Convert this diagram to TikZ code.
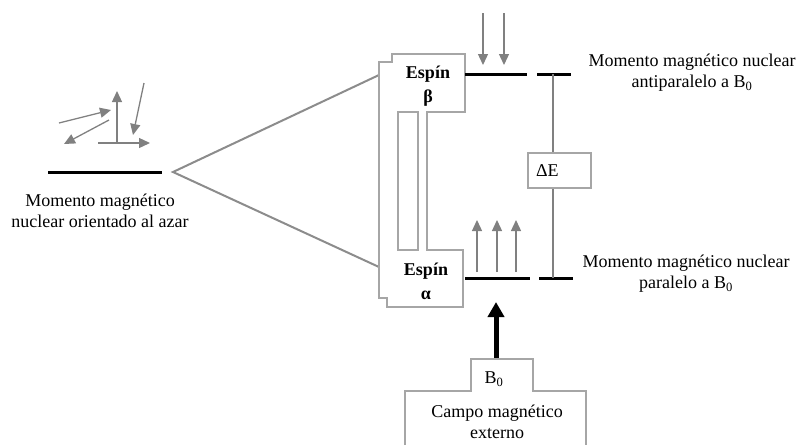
\documentclass[tikz,border=0pt]{standalone}
\usepackage{fontspec}
\setmainfont{Liberation Serif}
\usetikzlibrary{arrows.meta}
\begin{document}
\begin{tikzpicture}[x=1pt, y=-1pt, font=\fontsize{18}{21}\selectfont, line join=miter, line cap=butt,
    >={Triangle[length=11pt,width=10pt]},
    mom/.style={->, black!50, line width=1.3pt},
    level/.style={line width=3pt},
    frame/.style={black!35, line width=1.1pt},
    lab/.style={align=center, inner sep=0pt}]
    \useasboundingbox (0,0) rectangle (799,445);
    % nucleos orientados al azar
    \foreach \xa/\ya/\xb/\yb in {59/123/111/110, 109/120/64/144, 117/143/117/91, 98/143/150/143, 144/83/133/135}
        \draw[mom] (\xa,\ya)--(\xb,\yb);
    \draw[level] (48,172) coordinate (rnd) -- (162,172);
    \node[lab] (rndtxt) at (100,211) {Momento magnético\\nuclear orientado al azar};
    \coordinate (apex) at (173,172);
    \draw[black!45, line width=2pt] (379,75)--(apex)--(379,267);
    % caja de espines
    \draw[frame] (392,54)--(465,54)--(465,112)--(427,112)--(427,250)--(463,250)--(463,307)--(387,307)--(387,298)--(379,298)--(379,62)--(392,62)--cycle;
    \draw[frame] (398,112) rectangle (418,250);
    \node[lab, font=\fontsize{18}{24}\selectfont\bfseries] (beta) at (428,86) {Espín\\β};
    \node[lab, font=\fontsize{18}{24}\selectfont\bfseries] (alpha) at (426,281) {Espín\\α};
    % niveles
    \draw[level] (465,74)--(527,74);
    \draw[level] (537,74)--(571,74);
    \draw[level] (465,278)--(530,278);
    \draw[level] (539,278)--(573,278);
    \coordinate (etop) at (553,74);
    \coordinate (ebot) at (553,278);
    \node[draw=black!35, line width=1.1pt, minimum height=35pt, inner xsep=8pt, text width=47pt, align=left] (dE) at (559.5,170.5) {ΔE};
    \draw[black!50, line width=1.3pt] (etop)--(etop |- dE.north);
    \draw[black!50, line width=1.3pt] (ebot)--(ebot |- dE.south);
    \foreach \x in {483,504} \draw[mom] (\x,13)--(\x,65);
    \foreach \x in {477,497,516} \draw[mom] (\x,272)--(\x,220);
    \node[lab] (anti) at (692,73) {Momento magnético nuclear\\antiparalelo a B\textsubscript{0}};
    \node[lab] (para) at (686,274) {Momento magnético nuclear\\paralelo a B\textsubscript{0}};
    % campo externo
    \coordinate (bfield) at (496,358);
    \draw[line width=5pt, -{Triangle[length=15pt,width=16pt]}] (bfield)--(496,302);
    \draw[frame] (405,445)--(405,391)--(471,391)--(471,359)--(533,359)--(533,391)--(586,391)--(586,445);
    \node[lab] (b0) at (494,379) {B\textsubscript{0}};
    \node[lab] (campo) at (497,422) {Campo magnético\\externo};
\end{tikzpicture}
\end{document}
